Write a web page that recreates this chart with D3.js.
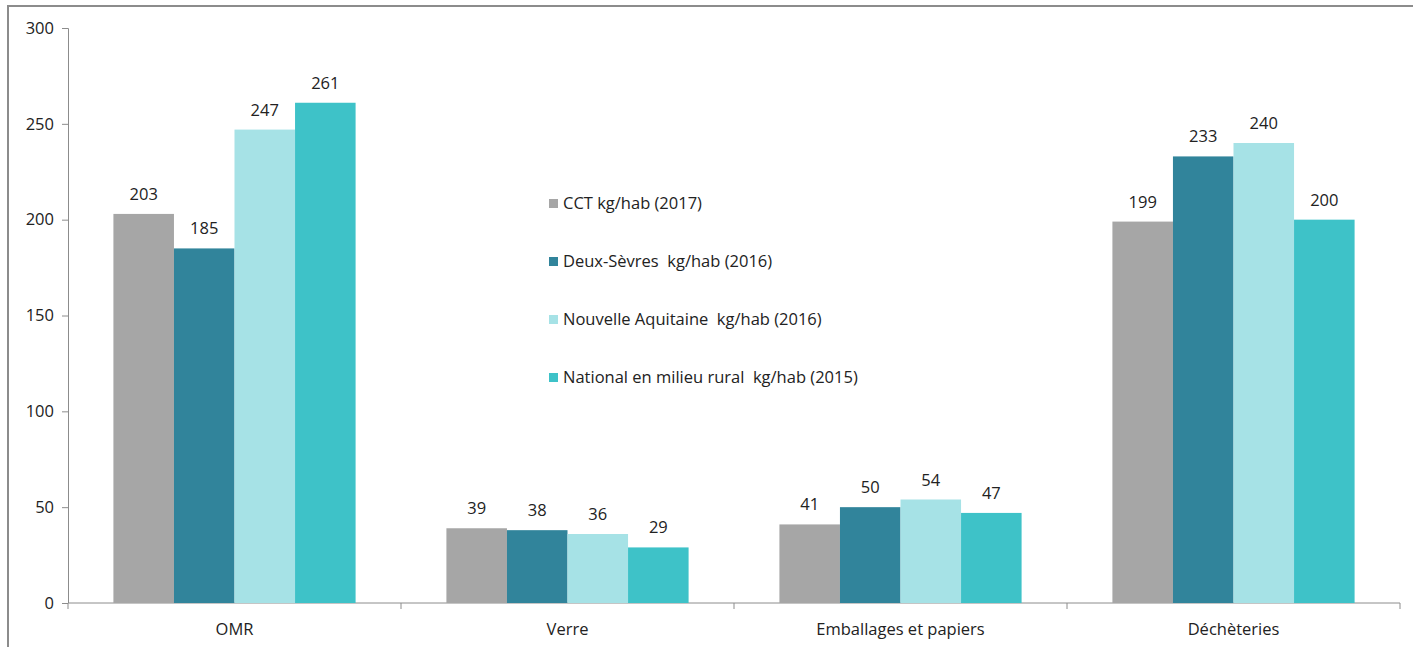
<!DOCTYPE html>
<html>
<head>
<meta charset="utf-8">
<script src="https://cdn.jsdelivr.net/npm/d3@7"></script>
<style>
  body { margin: 0; background: #fff; }
  text { font-family: "Open Sans", sans-serif; fill: #222; }
</style>
</head>
<body>
<div id="chart"></div>
<script>
//data
var categories = ["OMR", "Verre", "Emballages et papiers", "Déchèteries"];
var seriesNames = ["CCT kg/hab (2017)", "Deux-Sèvres  kg/hab (2016)", "Nouvelle Aquitaine  kg/hab (2016)", "National en milieu rural  kg/hab (2015)"];
var cct = [203, 39, 41, 199];
var deuxSevres = [185, 38, 50, 233];
var nouvelleAquitaine = [247, 36, 54, 240];
var national = [261, 29, 47, 200];
var yTicks = [0, 50, 100, 150, 200, 250, 300];

var colors = ["#a6a6a6", "#31849b", "#a6e2e6", "#3ec2c8"];
var series = [cct, deuxSevres, nouvelleAquitaine, national];
var fs = 16.5;

//set margins, width, and height
var W = 1413, H = 647;
var margin = {top: 28, left: 68, right: 13, bottom: 44};
var width = W - margin.left - margin.right,
    height = H - margin.top - margin.bottom;

var svg = d3.select("#chart").append("svg")
    .attr("width", W)
    .attr("height", H);

//outer frame
svg.append("rect")
  .attr("x", 8).attr("y", 6)
  .attr("width", W + 20).attr("height", H + 20)
  .attr("fill", "none")
  .attr("stroke", "#8c8c8c")
  .attr("stroke-width", 2);

var g = svg.append("g")
    .attr("transform", "translate(" + margin.left + "," + margin.top + ")");

//scales
var x0 = d3.scaleBand()
  .domain(categories)
  .range([0, width])
  .paddingInner(0)
  .paddingOuter(0);

// bars take 4/5.5 of each band (gap width 150%)
var inner = x0.bandwidth() * 4 / 5.5;
var x1 = d3.scaleBand()
  .domain(d3.range(series.length))
  .range([(x0.bandwidth() - inner) / 2, (x0.bandwidth() + inner) / 2]);

var y = d3.scaleLinear()
  .domain([0, 300])
  .range([height, 0]);

//y axis
var yAxis = g.append("g")
  .call(d3.axisLeft(y).tickValues(yTicks).tickSize(6).tickPadding(8).tickFormat(d3.format("d")));
yAxis.selectAll("path, line").attr("stroke", "#8c8c8c");
yAxis.select(".domain").attr("d", "M-6,0.5H0.5V" + height);
yAxis.selectAll("text").attr("font-size", fs).attr("font-family", "Open Sans").attr("fill", "#222");

//x axis
var xAxis = g.append("g")
  .attr("transform", "translate(0," + height + ")");
xAxis.append("line")
  .attr("x1", 0).attr("x2", width)
  .attr("stroke", "#8c8c8c");
xAxis.selectAll(".tk")
  .data(d3.range(categories.length + 1))
  .enter().append("line")
    .attr("x1", function(i) { return i * x0.bandwidth(); })
    .attr("x2", function(i) { return i * x0.bandwidth(); })
    .attr("y1", 0).attr("y2", 6)
    .attr("stroke", "#8c8c8c");
xAxis.selectAll(".lbl")
  .data(categories)
  .enter().append("text")
    .attr("x", function(d) { return x0(d) + x0.bandwidth() / 2; })
    .attr("y", 32)
    .attr("text-anchor", "middle")
    .attr("font-size", fs)
    .text(function(d) { return d; });

//bars
series.forEach(function(vals, s) {
  var grp = g.append("g");
  grp.selectAll("rect")
    .data(vals)
    .enter().append("rect")
      .attr("x", function(d, i) { return x0(categories[i]) + x1(s); })
      .attr("y", function(d) { return y(d); })
      .attr("width", x1.bandwidth())
      .attr("height", function(d) { return height - y(d); })
      .attr("fill", colors[s]);
  grp.selectAll("text")
    .data(vals)
    .enter().append("text")
      .attr("x", function(d, i) { return x0(categories[i]) + x1(s) + x1.bandwidth() / 2; })
      .attr("y", function(d) { return y(d) - 14; })
      .attr("text-anchor", "middle")
      .attr("font-size", fs)
      .text(function(d) { return d; });
});

//legend
var legend = svg.selectAll(".legend")
    .data(seriesNames)
  .enter().append("g")
    .attr("class", "legend")
    .attr("transform", function(d, i) { return "translate(549," + (203 + i * 58) + ")"; });

legend.append("rect")
  .attr("x", 0).attr("y", -4)
  .attr("width", 9).attr("height", 9)
  .attr("fill", function(d, i) { return colors[i]; });

legend.append("text")
  .attr("x", 14)
  .attr("y", 6)
  .attr("font-size", fs)
  .style("white-space", "pre")
  .text(function(d) { return d; });
</script>
</body>
</html>
